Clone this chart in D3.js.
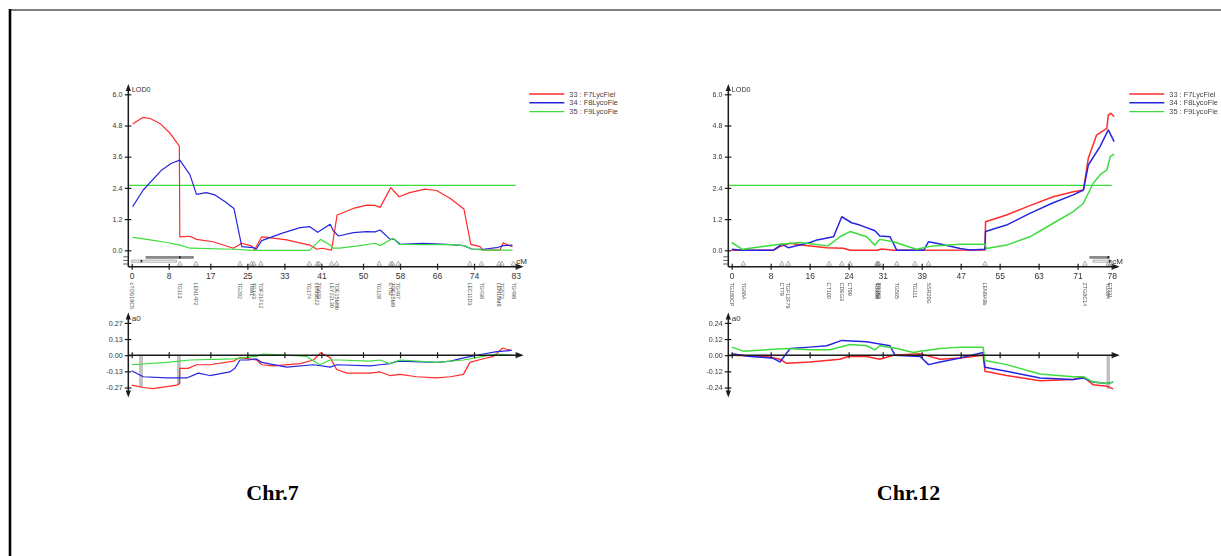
<!DOCTYPE html>
<html>
<head>
<meta charset="utf-8">
<script src="https://cdn.jsdelivr.net/npm/d3@7"></script>
<style>
  html, body { margin: 0; padding: 0; background: #fff; }
  svg { display: block; font-family: "Liberation Sans", Arial, sans-serif; }
</style>
</head>
<body>
<svg id="chart" width="1221" height="556"></svg>
<script>
// ---------- Series names (as printed in the legend boxes) ----------
const seriesNames = ["33 : F7LycFiel", "34 : F8LycoFie", "35 : F9LycoFie"];
const seriesColors = ["#ff2b2b", "#2626e0", "#3edc3e"];

// ---------- Chromosome 7 ----------
const chr7Length = 83;
const chr7Ticks = [0, 8, 17, 25, 33, 41, 50, 58, 66, 74, 83];
const chr7Threshold = 2.5;
const chr7A0Max = 0.27;
const chr7A0Ticks = [0.27, 0.135, 0, -0.135, -0.27];
const chr7A0TickLabels = ["0.27", "0.13", "0.00", "-0.13", "-0.27"];
const chr7Markers = [
  [0, "cTOS19C5"], [10.4, "TG113"], [13.9, "LEN14P2"], [23.4, "TG202"],
  [25.9, "TG61"], [26.4, "TG143"], [27.9, "TOF21F12"], [38.4, "TG174"],
  [40.1, "LEN3B22"], [40.5, "TG622"], [43.2, "LEY22L30"], [44.3, "TOE15M9b"],
  [53.5, "TG128"], [56.0, "CT52"], [56.4, "TOE15M9"], [57.6, "TG497"],
  [73.1, "LEC11D3"], [75.6, "TG438"], [79.4, "LEN18M9"], [80.0, "TG572"],
  [82.5, "TG499"]
];
// LOD support intervals: [low, high, peak, filled]
const chr7Intervals = [[3.1, 13.4, 10.4, 1], [0, 9.7, 2.1, 0]];
// additive effect at the QTL peaks: [cM, a0]
const chr7PeakEffects = [[2.0, -0.265], [10.2, -0.237]];

const chr7LodF7 = [[0.2,4.86],[2.4,5.11],[4.0,5.07],[6.1,4.88],[8.3,4.5],[10.3,4.01],[10.4,0.52],[12.6,0.54],[14.0,0.42],[17.6,0.33],[22.0,0.08],[23.8,0.27],[25.9,0.17],[26.6,0.04],[28.1,0.52],[29.3,0.5],[33.5,0.40],[38.5,0.2],[40.0,0.04],[41.1,0.08],[43.2,0.01],[44.4,1.36],[47.9,1.61],[50.8,1.74],[52.6,1.73],[53.7,1.65],[56.0,2.41],[57.8,2.06],[60.1,2.22],[63.4,2.35],[65.9,2.30],[68.8,2.0],[71.8,1.59],[73.3,0.23],[75.3,0.14],[75.9,0.01],[79.6,0.01],[80.3,0.29],[81.4,0.2],[82.3,0.14]];
const chr7LodF8 = [[0.2,1.68],[2.5,2.32],[6.5,3.09],[8.6,3.35],[10.4,3.47],[12.6,2.9],[14.0,2.15],[16.1,2.22],[18.0,2.13],[20.2,1.87],[22.1,1.61],[23.8,0.14],[26.4,0.1],[26.9,0.04],[28.1,0.37],[32.4,0.65],[36.4,0.87],[38.5,0.91],[40.2,0.69],[42.9,1.0],[43.6,0.75],[44.7,0.55],[47.9,0.68],[50.8,0.72],[52.6,0.71],[53.7,0.78],[55.8,0.43],[56.8,0.42],[58.0,0.23],[63.0,0.27],[68.1,0.23],[71.7,0.18],[73.5,0.05],[76.0,0.04],[78.9,0.1],[80.3,0.18],[82.3,0.2]];
const chr7LodF9 = [[0.2,0.5],[4.0,0.4],[7.6,0.3],[10.4,0.2],[12.6,0.08],[22.0,0.04],[26.3,0.0],[38.5,0.0],[40.8,0.42],[42.9,0.2],[43.6,0.08],[44.9,0.08],[49.3,0.18],[52.6,0.27],[53.7,0.18],[56.5,0.46],[57.8,0.23],[63.0,0.22],[69.5,0.22],[71.8,0.18],[73.5,0.05],[76.0,0.01],[82.3,0.01]];

const chr7A0F7 = [[0,-0.25],[2.5,-0.27],[4.6,-0.28],[9.7,-0.25],[10.3,-0.24],[10.4,-0.11],[12.2,-0.11],[14.0,-0.08],[16.9,-0.08],[22.0,-0.05],[23.4,-0.02],[27.0,-0.04],[28.1,-0.08],[30.6,-0.09],[36.4,-0.07],[39.3,-0.04],[40.8,0.02],[42.9,-0.02],[44.3,-0.12],[46.5,-0.15],[51.5,-0.15],[53.7,-0.14],[55.8,-0.17],[58.0,-0.16],[61.6,-0.18],[66.0,-0.19],[68.9,-0.18],[71.7,-0.16],[73.1,-0.06],[76.0,-0.03],[78.2,-0.01],[80.2,0.06],[81.0,0.05],[82.1,0.04]];
const chr7A0F8 = [[0,-0.13],[2.5,-0.18],[7.6,-0.19],[11.9,-0.19],[14.4,-0.15],[16.9,-0.17],[21.2,-0.14],[22.3,-0.11],[23.4,-0.04],[25.2,-0.04],[26.9,-0.03],[28.1,-0.06],[33.5,-0.10],[39.3,-0.08],[42.9,-0.10],[44.3,-0.08],[51.5,-0.09],[53.7,-0.08],[55.8,-0.07],[57.6,-0.05],[66.0,-0.06],[68.9,-0.05],[72.0,-0.02],[76.0,0.01],[78.9,0.03],[82.1,0.04]];
const chr7A0F9 = [[0,-0.08],[7.6,-0.06],[12.6,-0.04],[22.0,-0.03],[27.0,-0.01],[28.4,0.01],[33.5,0.0],[37.8,-0.01],[40.6,-0.08],[42.9,-0.04],[44.9,-0.04],[51.5,-0.05],[53.7,-0.04],[55.8,-0.07],[58.0,-0.04],[66.0,-0.06],[71.7,-0.04],[76.0,-0.01],[78.9,0.01],[82.1,0.0]];

// ---------- Chromosome 12 ----------
const chr12Length = 78;
const chr12Ticks = [0, 8, 16, 24, 31, 39, 47, 55, 63, 71, 78];
const chr12Threshold = 2.5;
const chr12A0Max = 0.24;
const chr12A0Ticks = [0.24, 0.12, 0, -0.12, -0.24];
const chr12A0TickLabels = ["0.24", "0.12", "0.00", "-0.12", "-0.24"];
const chr12Markers = [
  [0, "TG180CP"], [2.4, "TG68A"], [10.3, "CT79"], [11.6, "TGF12F79"],
  [20.0, "CT100"], [22.6, "CDEG3"], [24.3, "CT99"], [29.8, "TG296"],
  [30.0, "CT156"], [30.2, "TG263"], [33.9, "TG565"], [37.6, "TG111"],
  [40.4, "SSR20G"], [52.0, "LEN9A9b"], [72.5, "ZTG8C14"], [77.3, "TG394"],
  [77.7, "CT211"]
];
const chr12Intervals = [[73.5, 77.5, 77.3, 1], [74.2, 78.0, 77.6, 0]];
const chr12PeakEffects = [[77.3, -0.247]];

const chr12LodF7 = [[0,0],[8.5,0],[9.9,0.14],[12.0,0.27],[14.3,0.2],[19.5,0.1],[22.9,0.08],[24.3,0],[29.8,0],[30.8,0.05],[33.2,0],[52.0,0.01],[52.1,1.1],[56.4,1.36],[61.2,1.72],[66.0,2.06],[70.1,2.25],[72.2,2.32],[73.2,3.54],[74.9,4.43],[77.0,4.69],[77.3,5.2],[77.8,5.27],[78.5,5.14]];
const chr12LodF8 = [[0,0.04],[2.2,0],[8.5,0],[10.3,0.24],[11.6,0.1],[16.1,0.3],[17.5,0.4],[20.9,0.52],[22.6,1.29],[24.6,1.06],[26.3,0.97],[29.4,0.75],[30.4,0.55],[32.5,0.52],[33.9,0],[39.4,0],[40.4,0.33],[42.8,0.24],[46.9,0.07],[48.9,0.01],[52.0,0.04],[52.1,0.72],[56.4,0.97],[61.2,1.42],[66.0,1.83],[70.1,2.13],[72.2,2.32],[73.2,3.28],[75.6,3.99],[77.3,4.63],[78.5,4.18]];
const chr12LodF9 = [[0,0.3],[2.2,0.04],[9.9,0.23],[14.0,0.3],[19.8,0.17],[22.2,0.52],[24.3,0.72],[27.7,0.52],[29.4,0.2],[30.4,0.42],[33.2,0.33],[37.9,0.04],[41.3,0.17],[46.9,0.23],[52.0,0.23],[52.3,0.07],[56.4,0.2],[61.2,0.52],[66.0,1.04],[70.1,1.49],[72.2,1.81],[74.2,2.58],[75.6,2.9],[77.0,3.09],[77.7,3.6],[78.5,3.7]];

const chr12A0F7 = [[0,0],[7.2,-0.01],[9.9,-0.03],[11.3,-0.06],[16.1,-0.05],[22.2,-0.03],[23.9,-0.01],[27.7,-0.01],[30.4,-0.03],[33.2,0],[38.7,0.01],[42.8,-0.03],[46.9,-0.02],[51.6,0.0],[52.0,-0.12],[56.4,-0.15],[63.3,-0.19],[70.1,-0.18],[72.2,-0.16],[74.2,-0.22],[77.0,-0.23],[78.3,-0.25]];
const chr12A0F8 = [[0,0.01],[3.8,-0.01],[8.3,-0.02],[9.9,-0.05],[12.0,0.05],[16.1,0.06],[19.5,0.07],[22.6,0.11],[27.7,0.1],[32.5,0.07],[33.5,0],[38.7,-0.01],[40.4,-0.07],[42.8,-0.05],[46.9,-0.02],[51.6,0.02],[52.0,-0.09],[56.4,-0.12],[63.3,-0.17],[70.1,-0.18],[72.2,-0.17],[74.2,-0.2],[77.0,-0.21],[78.3,-0.20]];
const chr12A0F9 = [[0,0.06],[2.4,0.03],[7.2,0.04],[11.3,0.05],[16.1,0.04],[20.2,0.04],[24.3,0.08],[27.7,0.07],[29.4,0.04],[30.4,0.07],[33.9,0.05],[37.3,0.02],[38.7,0.03],[42.8,0.05],[46.9,0.06],[51.6,0.06],[52.0,-0.04],[56.4,-0.07],[63.3,-0.14],[70.1,-0.16],[72.2,-0.16],[74.2,-0.2],[77.0,-0.21],[78.3,-0.2]];

const lodTicks = [0, 1.2, 2.4, 3.6, 4.8, 6.0];
const titles = ["Chr.7", "Chr.12"];

// ---------- Layout ----------
const LOD_ZERO = 250.3, LOD_TOP = 94.3;
const AXIS_Y = 266.7;
const A0_ZERO = 355.2, A0_HALF = 32.3;
const AXIS_COLOR = "#1a1a1a";

const svg = d3.select("#chart");
const defs = svg.append("defs");
defs.append("filter").attr("id", "soft")
  .attr("x", "-5%").attr("y", "-5%").attr("width", "110%").attr("height", "110%")
  .append("feGaussianBlur").attr("stdDeviation", 0.55);

// outer frame
svg.append("line").attr("x1", 9).attr("y1", 10).attr("x2", 1221).attr("y2", 10)
  .attr("stroke", "#555").attr("stroke-width", 1.6);
svg.append("line").attr("x1", 10).attr("y1", 9).attr("x2", 10).attr("y2", 556)
  .attr("stroke", "#000").attr("stroke-width", 2.6);

function arrowUp(g, x, y) {
  g.append("path").attr("d", `M${x},${y} L${x - 2.6},${y + 7} L${x + 2.6},${y + 7} Z`).attr("fill", AXIS_COLOR);
}
function arrowDown(g, x, y) {
  g.append("path").attr("d", `M${x},${y} L${x - 2.6},${y - 7} L${x + 2.6},${y - 7} Z`).attr("fill", AXIS_COLOR);
}
function arrowRight(g, x, y) {
  g.append("path").attr("d", `M${x},${y} L${x - 7},${y - 2.6} L${x - 7},${y + 2.6} Z`).attr("fill", AXIS_COLOR);
}

function drawPanel(p) {
  const g = svg.append("g");
  if (p.soft) g.attr("filter", "url(#soft)");
  const x = d3.scaleLinear([0, p.length], [p.left, p.right]);
  const yL = d3.scaleLinear([0, 6], [LOD_ZERO, LOD_TOP]);
  const yA = d3.scaleLinear([-p.a0Max, p.a0Max], [A0_ZERO + A0_HALF, A0_ZERO - A0_HALF]);
  const ax = p.left - 3.4;
  const xEnd = p.right + 8;
  const lw = p.lineWidth;

  // ---- LOD panel ----
  // significance threshold
  g.append("line").attr("x1", ax).attr("x2", x(p.length))
    .attr("y1", yL(p.threshold)).attr("y2", yL(p.threshold))
    .attr("stroke", seriesColors[2]).attr("stroke-width", 1.3);

  const lodLine = d3.line().x(d => x(d[0])).y(d => yL(d[1]));
  p.lod.forEach((s, i) => {
    g.append("path").datum(s).attr("d", lodLine).attr("fill", "none")
      .attr("stroke", seriesColors[i]).attr("stroke-width", lw).attr("stroke-linejoin", "round");
  });

  // y axis
  g.append("line").attr("x1", ax).attr("x2", ax).attr("y1", 88).attr("y2", AXIS_Y)
    .attr("stroke", AXIS_COLOR).attr("stroke-width", 1.5);
  arrowUp(g, ax, 84);
  const yAxis = g.append("g").attr("transform", `translate(${ax},0)`)
    .call(d3.axisLeft(yL).tickValues(lodTicks).tickFormat(d3.format(".1f")).tickSize(3.5).tickPadding(2.5));
  yAxis.select(".domain").remove();
  yAxis.selectAll(".tick line").attr("x1", 3).attr("stroke", AXIS_COLOR).attr("stroke-width", 1.2);
  yAxis.selectAll(".tick text").attr("font-size", 7).attr("fill", "#333")
    .attr("font-family", "Liberation Sans, Arial, sans-serif");
  g.append("text").attr("x", ax + 3.5).attr("y", 92).attr("font-size", 7.2).attr("fill", "#333").text("LOD0");

  // rows for support intervals
  [0, 1, 2].forEach(r => {
    g.append("line").attr("x1", ax - 5).attr("x2", ax).attr("y1", 256.8 + r * 3.6).attr("y2", 256.8 + r * 3.6)
      .attr("stroke", "#333").attr("stroke-width", 0.8);
  });
  p.intervals.forEach((iv, r) => {
    const yy = 256.3 + r * 3.8;
    g.append("rect").attr("x", x(iv[0])).attr("y", yy).attr("width", x(iv[1]) - x(iv[0])).attr("height", 2)
      .attr("fill", iv[3] ? "#888" : "#fff").attr("stroke", "#777").attr("stroke-width", 0.6);
    g.append("rect").attr("x", x(iv[2]) - 0.8).attr("y", yy - 0.2).attr("width", 1.6).attr("height", 2.4)
      .attr("fill", "#222");
  });

  // x axis
  g.append("line").attr("x1", ax).attr("x2", xEnd - 3).attr("y1", AXIS_Y).attr("y2", AXIS_Y)
    .attr("stroke", AXIS_COLOR).attr("stroke-width", 1.5);
  arrowRight(g, xEnd, AXIS_Y);
  const xAxis = g.append("g").attr("transform", `translate(0,${AXIS_Y})`)
    .call(d3.axisBottom(x).tickValues(p.ticks).tickFormat(d3.format("d")).tickSize(3).tickPadding(3));
  xAxis.select(".domain").remove();
  xAxis.selectAll(".tick line").attr("y1", -3).attr("stroke", AXIS_COLOR).attr("stroke-width", 1.2);
  xAxis.selectAll(".tick text").attr("font-size", 8.5).attr("fill", "#333")
    .attr("font-family", "Liberation Sans, Arial, sans-serif");
  g.append("text").attr("x", p.right + 0.5).attr("y", 264).attr("font-size", 8).attr("fill", "#333").text("cM");

  // markers
  const tri = d3.symbol(d3.symbolTriangle, 9);
  p.markers.filter(m => m[0] > 0.5).forEach(m => {
    g.append("path").attr("d", tri).attr("transform", `translate(${x(m[0])},${AXIS_Y - 2.8})`)
      .attr("fill", "none").attr("stroke", "#777").attr("stroke-width", 0.6);
  });
  p.markers.forEach(m => {
    const mx = x(m[0]);
    g.append("text").attr("x", mx).attr("y", 282.5).attr("dy", "0.35em")
      .attr("transform", `rotate(90,${mx},282.5)`)
      .attr("font-size", 5.4).attr("fill", "#555").text(m[1]);
  });

  // legend
  const lg = g.append("g");
  seriesNames.forEach((n, i) => {
    const yy = 94 + i * 8.8;
    lg.append("line").attr("x1", p.legendX).attr("x2", p.legendX + 35).attr("y1", yy).attr("y2", yy)
      .attr("stroke", seriesColors[i]).attr("stroke-width", 1.4);
    lg.append("text").attr("x", p.legendX + 40).attr("y", yy + 2.6).attr("font-size", 7.4)
      .attr("fill", "#444").text(n);
  });

  // ---- additive effect panel ----
  p.peaks.forEach(pk => {
    g.append("rect").attr("x", x(pk[0]) - 1.3).attr("y", A0_ZERO).attr("width", 2.6)
      .attr("height", yA(pk[1]) - A0_ZERO).attr("fill", "#c4c4c4").attr("stroke", "#999").attr("stroke-width", 0.5);
  });

  const a0Line = d3.line().x(d => x(d[0])).y(d => yA(d[1]));
  p.a0.forEach((s, i) => {
    g.append("path").datum(s).attr("d", a0Line).attr("fill", "none")
      .attr("stroke", seriesColors[i]).attr("stroke-width", lw).attr("stroke-linejoin", "round");
  });

  g.append("line").attr("x1", ax).attr("x2", ax).attr("y1", 318).attr("y2", 392)
    .attr("stroke", AXIS_COLOR).attr("stroke-width", 1.5);
  arrowUp(g, ax, 312.5);
  arrowDown(g, ax, 397.5);
  const aAxis = g.append("g").attr("transform", `translate(${ax},0)`)
    .call(d3.axisLeft(yA).tickValues(p.a0Ticks).tickFormat((d, i) => p.a0TickLabels[i]).tickSize(3.5).tickPadding(2));
  aAxis.select(".domain").remove();
  aAxis.selectAll(".tick line").attr("x1", 3).attr("stroke", AXIS_COLOR).attr("stroke-width", 1.2);
  aAxis.selectAll(".tick text").attr("font-size", 7.2).attr("fill", "#333")
    .attr("font-family", "Liberation Sans, Arial, sans-serif");
  g.append("text").attr("x", ax + 3.5).attr("y", 321).attr("font-size", 8).attr("fill", "#333").text("a0");

  g.append("line").attr("x1", ax).attr("x2", xEnd - 3).attr("y1", A0_ZERO).attr("y2", A0_ZERO)
    .attr("stroke", AXIS_COLOR).attr("stroke-width", 1.5);
  arrowRight(g, xEnd, A0_ZERO);
  const aX = g.append("g").attr("transform", `translate(0,${A0_ZERO})`)
    .call(d3.axisBottom(x).tickValues(p.ticks).tickFormat("").tickSize(3));
  aX.select(".domain").remove();
  aX.selectAll(".tick line").attr("y1", -3).attr("stroke", AXIS_COLOR).attr("stroke-width", 1.2);

  // title
  svg.append("text").attr("x", p.titleX).attr("y", 500).attr("text-anchor", "middle")
    .attr("font-family", "Liberation Serif, Times New Roman, serif").attr("font-weight", "bold")
    .attr("font-size", 22).attr("fill", "#000").text(p.title);
}

drawPanel({
  title: titles[0], titleX: 272.5, left: 131.7, right: 515.7, length: chr7Length,
  ticks: chr7Ticks, threshold: chr7Threshold, markers: chr7Markers,
  intervals: chr7Intervals, peaks: chr7PeakEffects,
  lod: [chr7LodF7, chr7LodF8, chr7LodF9], a0: [chr7A0F7, chr7A0F8, chr7A0F9],
  a0Max: chr7A0Max, a0Ticks: chr7A0Ticks, a0TickLabels: chr7A0TickLabels,
  legendX: 529.3, lineWidth: 1.2, soft: false
});
drawPanel({
  title: titles[1], titleX: 908.5, left: 731.7, right: 1111.7, length: chr12Length,
  ticks: chr12Ticks, threshold: chr12Threshold, markers: chr12Markers,
  intervals: chr12Intervals, peaks: chr12PeakEffects,
  lod: [chr12LodF7, chr12LodF8, chr12LodF9], a0: [chr12A0F7, chr12A0F8, chr12A0F9],
  a0Max: chr12A0Max, a0Ticks: chr12A0Ticks, a0TickLabels: chr12A0TickLabels,
  legendX: 1129.3, lineWidth: 1.5, soft: true
});
</script>
</body>
</html>
